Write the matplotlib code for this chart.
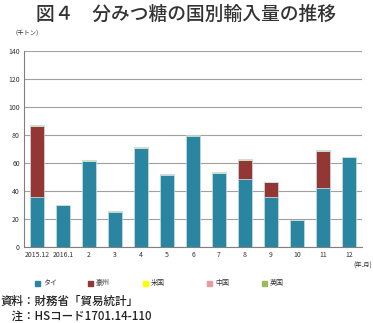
import numpy as np
import matplotlib.pyplot as plt
from matplotlib.patches import Rectangle

plt.rcParams['font.family'] = ['Noto Sans CJK JP', 'DejaVu Sans']

months = ["2015.12", "2016.1", "2", "3", "4", "5", "6", "7", "8", "9", "10", "11", "12"]
thai = [35.6, 30.0, 61.5, 25.0, 71.0, 51.5, 79.5, 53.0, 48.8, 36.0, 19.2, 42.5, 64.0]
australia = [50.8, 0, 0, 0, 0, 0, 0, 0, 13.7, 10.4, 0, 26.3, 0]
usa = [0.5, 0, 0.3, 0.3, 0.6, 0, 0, 0.3, 0.4, 0, 0, 0.6, 0.2]
china = [0, 0, 0, 0, 0, 0.6, 0, 0, 0, 0.2, 0, 0, 0]
uk = [0, 0, 0.4, 0.4, 0, 0, 0.3, 0.3, 0, 0, 0, 0, 0.4]

series = [("タイ", thai, "#2a86a0"), ("豪州", australia, "#943634"),
          ("米国", usa, "#ffff00"), ("中国", china, "#e59c9c"),
          ("英国", uk, "#9bbb59")]

fig = plt.figure(figsize=(3.73, 3.23), dpi=100)
ax = fig.add_axes([24 / 373, 1 - 247 / 323, 338 / 373, 196 / 323])

x = np.arange(len(months))
bottom = np.zeros(len(months))
for name, vals, col in series:
    vals = np.array(vals)
    ax.bar(x, vals, 0.55, bottom=bottom, color=col, edgecolor="#c8dde4", linewidth=0.5, zorder=3)
    bottom += vals

ax.set_xlim(-0.5, len(months) - 0.5)
ax.set_ylim(0, 140)
ax.set_yticks(range(0, 141, 20))
ax.set_xticks(x)
ax.set_xticklabels(months)
ax.tick_params(axis="both", labelsize=5, length=0, pad=3, labelcolor="#333333")
ax.yaxis.grid(True, color="#a0a0a0", linewidth=0.8, zorder=0)
for s in ["top", "right"]:
    ax.spines[s].set_visible(False)
ax.spines["left"].set_color("#808080")
ax.spines["bottom"].set_color("#808080")
ax.spines["left"].set_linewidth(0.8)
ax.spines["bottom"].set_linewidth(0.8)

fig.text(0.5, 1 - 14 / 323, "図４　分みつ糖の国別輸入量の推移", ha="center", va="center",
         fontsize=13.5, fontweight="medium", color="#333333")
fig.text(12 / 373, 1 - 32 / 323, "（千トン）", ha="left", va="center", fontsize=4.5, color="#333333")
fig.text(372 / 373, 1 - 266 / 323, "(年.月)", ha="right", va="center", fontsize=4.5, color="#333333")

legend_x = [35, 88, 143, 207, 262]
for (name, vals, col), lx in zip(series, legend_x):
    fig.patches.append(Rectangle((lx / 373, 1 - 286 / 323), 5 / 373, 5 / 323,
                                 transform=fig.transFigure, color=col, figure=fig))
    fig.text((lx + 8) / 373, 1 - 283.5 / 323, name, ha="left", va="center", fontsize=5, color="#333333")

fig.text(0, 1 - 301 / 323, "資料：財務省「貿易統計」", ha="left", va="center", fontsize=8.3,
         fontweight="medium", color="#222222")
fig.text(0, 1 - 316 / 323, "　注：HSコード1701.14-110", ha="left", va="center", fontsize=8.3,
         fontweight="medium", color="#222222")

fig.savefig("out.png", dpi=100)
